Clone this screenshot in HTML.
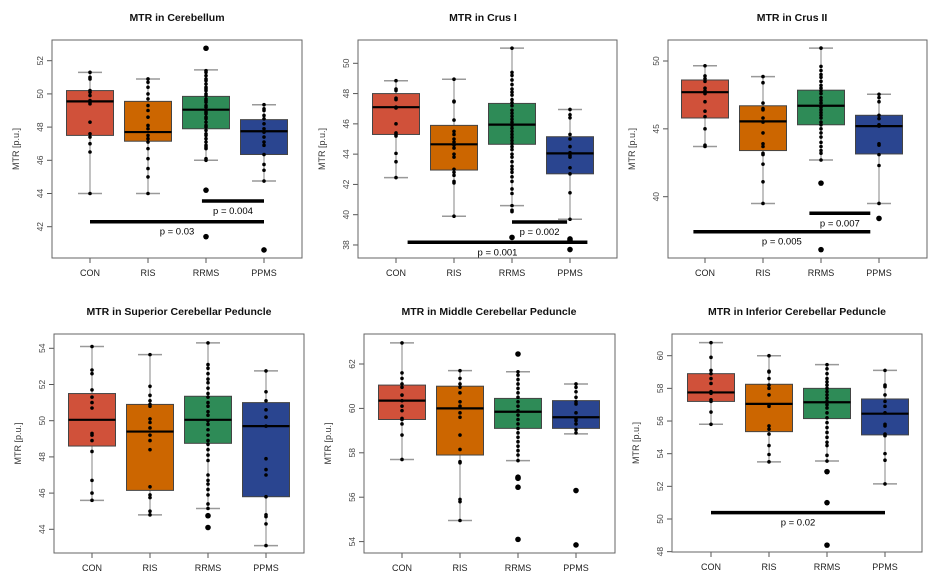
<!DOCTYPE html>
<html><head><meta charset="utf-8"><style>
body{margin:0;background:#fff;}
svg{display:block;font-family:"Liberation Sans",Arial,sans-serif;}
</style></head><body>
<svg id="chart" width="936" height="586" viewBox="0 0 936 586"></svg>
<script>
const groups = ["CON","RIS","RRMS","PPMS"];
const colors = ["#d0513a","#cc6600","#2e8b57","#2a4590"];
const titles = ["MTR in Cerebellum","MTR in Crus I","MTR in Crus II","MTR in Superior Cerebellar Peduncle","MTR in Middle Cerebellar Peduncle","MTR in Inferior Cerebellar Peduncle"];
const tickLabels = [[42,44,46,48,50,52],[38,40,42,44,46,48,50],[40,45,50],[44,46,48,50,52,54],[54,56,58,60,62],[48,50,52,54,56,58,60]];
// stats per group: [whiskerLow, q1, median, q3, whiskerHigh]
const stats1 = [[44.0,47.5,49.55,50.2,51.3],[44.0,47.15,47.7,49.55,50.9],[46.0,47.9,49.05,49.85,51.45],[44.75,46.35,47.75,48.45,49.35]];
const stats2 = [[42.45,45.3,47.1,48.0,48.85],[39.9,42.95,44.65,45.9,48.95],[40.6,44.65,45.95,47.35,51.0],[39.7,42.7,44.05,45.15,46.95]];
const stats3 = [[43.7,45.8,47.7,48.6,49.65],[39.5,43.4,45.55,46.7,48.85],[42.7,45.3,46.7,47.85,50.95],[39.5,43.15,45.2,46.0,47.55]];
const stats4 = [[45.6,48.6,50.05,51.5,54.1],[44.8,46.15,49.4,50.9,53.65],[45.15,48.75,50.05,51.35,54.3],[43.1,45.8,49.7,51.0,52.75]];
const stats5 = [[57.7,59.5,60.35,61.05,62.95],[54.95,57.9,60.0,61.0,61.7],[57.65,59.1,59.85,60.45,61.65],[58.85,59.1,59.6,60.35,61.1]];
const stats6 = [[55.8,57.2,57.75,58.9,60.8],[53.5,55.35,57.05,58.25,60.0],[53.55,56.15,57.15,58.0,59.45],[52.15,55.15,56.45,57.35,59.1]];
// points per group
const pts1 = [[51.3,51.0,50.9,50.2,50.1,49.9,49.6,49.5,49.4,48.3,47.6,47.4,47.0,46.5,44.0],
 [50.9,50.7,50.4,50.0,49.7,49.3,49.0,48.6,48.1,47.9,47.5,47.3,47.1,46.7,46.1,45.5,45.0,44.0],
 [51.4,51.3,51.1,50.9,50.8,50.6,50.4,50.3,50.2,50.0,49.9,49.7,49.6,49.5,49.3,49.2,49.0,48.9,48.8,48.6,48.5,48.3,48.1,48.0,47.8,47.6,47.5,47.3,47.1,46.9,46.8,46.7,46.1,46.0],
 [49.35,49.1,49.0,48.7,48.5,48.2,47.9,47.7,47.4,47.1,46.9,46.35,45.75,45.4,44.75]];
const out1 = [[],[],[52.75,44.2,41.4],[40.6]];
const pts2 = [[48.85,48.3,48.2,47.7,47.6,47.1,47.05,46.0,45.4,45.3,45.2,44.05,43.5,42.45],
 [48.95,47.5,47.45,46.25,45.5,45.3,45.0,44.8,44.6,44.4,44.0,43.8,43.0,42.8,42.6,42.2,42.1,39.9],
 [51.0,49.4,49.2,48.9,48.6,48.3,48.1,47.9,47.6,47.4,47.2,46.9,46.7,46.5,46.3,46.1,45.9,45.7,45.5,45.3,45.1,44.9,44.7,44.5,44.3,44.0,43.8,43.5,43.2,43.0,42.8,42.5,42.2,41.7,41.4,40.6,40.3,40.2],
 [46.95,46.6,46.4,45.3,45.0,44.5,44.1,43.9,43.8,43.1,42.7,41.45,39.7]];
const out2 = [[],[],[38.5],[38.4,38.3,37.7]];
const pts3 = [[49.65,48.9,48.7,48.5,48.0,47.8,47.6,47.0,46.3,45.9,45.0,43.8,43.7],
 [48.85,48.4,46.9,46.5,46.4,45.8,45.5,44.7,43.9,43.7,43.2,43.1,42.4,41.1,39.5],
 [50.95,49.6,49.3,49.0,48.8,48.5,48.2,48.0,47.8,47.6,47.3,47.1,46.9,46.6,46.4,46.2,46.0,45.8,45.5,45.3,45.0,44.7,44.4,44.0,43.7,43.4,43.2,42.7],
 [47.55,47.3,47.0,46.0,45.75,45.3,45.2,43.9,43.8,43.1,42.3,39.5]];
const out3 = [[],[],[41.0,36.1],[38.4]];
const pts4 = [[54.1,52.8,52.6,51.7,51.3,51.0,50.7,49.3,49.2,48.9,48.3,46.7,46.0,45.6],
 [53.65,51.9,51.4,51.1,50.9,50.8,50.1,49.9,49.6,49.2,48.9,48.4,46.35,45.9,45.75,45.0,44.8],
 [54.3,53.1,52.9,52.6,52.3,52.1,51.8,51.5,51.3,51.0,50.8,50.5,50.3,50.0,49.8,49.5,49.2,48.9,48.7,48.4,48.1,47.8,47.0,46.7,46.5,46.2,45.9,45.4,45.15],
 [52.75,51.6,51.1,50.6,50.2,49.7,47.9,47.3,47.0,45.8,44.8,44.7,44.3,43.1]];
const out4 = [[],[],[44.75,44.1],[]];
const pts5 = [[62.95,61.6,61.35,61.1,60.95,60.6,60.35,60.1,59.9,59.55,59.5,59.3,58.8,57.7],
 [61.7,61.35,61.1,60.95,60.7,60.3,60.1,59.8,59.6,58.8,58.15,57.6,57.55,55.9,55.8,54.95],
 [61.65,61.5,61.3,61.1,60.9,60.7,60.5,60.3,60.1,59.9,59.7,59.5,59.3,59.1,58.9,58.7,58.5,58.3,58.1,57.9,57.65],
 [61.1,60.95,60.75,60.5,60.3,60.2,59.8,59.55,59.45,59.3,59.05,58.9]];
const out5 = [[],[],[62.45,56.9,56.85,56.45,54.1],[56.3,53.85]];
const pts6 = [[60.8,59.9,59.1,58.9,58.6,58.3,57.8,57.7,57.3,57.2,56.55,55.8],
 [60.0,59.05,59.0,58.6,58.2,58.0,57.6,57.0,56.9,55.7,55.5,55.2,54.5,53.95,53.5],
 [59.45,59.2,58.9,58.6,58.4,58.2,58.0,57.8,57.6,57.4,57.2,57.0,56.8,56.5,56.2,55.9,55.6,55.3,55.0,54.7,54.5,53.9,53.55],
 [59.1,58.2,58.1,57.6,57.2,56.9,56.5,55.8,55.7,55.2,55.1,54.0,53.6,52.15]];
const out6 = [[],[],[52.9,51.0,48.4],[]];
// significance bars: [fromGroup, toGroup, value, label]
const sig1 = [[2.93,4.0,43.55,"p = 0.004"],[1.0,4.0,42.3,"p = 0.03"]];
const sig2 = [[3.0,3.95,39.52,"p = 0.002"],[1.2,4.3,38.18,"p = 0.001"]];
const sig3 = [[2.8,3.85,38.78,"p = 0.007"],[0.8,3.85,37.42,"p = 0.005"]];
const sig6 = [[1.0,4.0,50.39,"p = 0.02"]];

const S=[stats1,stats2,stats3,stats4,stats5,stats6];
const P=[pts1,pts2,pts3,pts4,pts5,pts6];
const O=[out1,out2,out3,out4,out5,out6];
const G=[sig1,sig2,sig3,[],[],sig6];
// layout: frame left,right,top,bottom; centers of group1 and group4; reference tick (value,pixel) and px per unit
const L=[
 {l:52,r:302,t:40,b:258,c1:90,c4:264,v0:52,p0:60.7,k:16.6,tx:177},
 {l:358,r:617,t:40,b:258,c1:396,c4:570,v0:50,p0:63.3,k:15.14,tx:483},
 {l:668,r:927,t:40,b:258,c1:705,c4:879,v0:50,p0:61,k:13.57,tx:792},
 {l:54,r:304,t:334,b:553,c1:92,c4:266,v0:54,p0:348.3,k:18.1,tx:179},
 {l:364,r:615,t:334,b:553,c1:402,c4:576,v0:62,p0:364,k:22.2,tx:489},
 {l:672,r:922,t:334,b:552,c1:711,c4:885,v0:60,p0:355.7,k:16.33,tx:797}];
const NS="http://www.w3.org/2000/svg";
const svg=document.getElementById('chart');
function mk(tag,attrs,parent,txt){const e=document.createElementNS(NS,tag);for(const a in attrs)e.setAttribute(a,attrs[a]);if(txt!==undefined)e.textContent=txt;(parent||svg).appendChild(e);return e;}
L.forEach((f,pi)=>{
 const g=mk('g',{});
 
 
 const y=v=>f.p0+(f.v0-v)*f.k;
 const x=i=>f.c1+(i-1)*(f.c4-f.c1)/3;
 const t=mk('text',{x:f.tx,y:f.t-19,'text-anchor':'middle','font-size':'10.5','font-weight':'bold',fill:'#111'},g,titles[pi]);
 
 
 const yt=mk('text',{transform:`translate(${f.l-33},${(f.t+f.b)/2}) rotate(-90)`,'text-anchor':'middle','font-size':'9',fill:'#333'},g,'MTR [p.u.]');
 
 
 tickLabels[pi].forEach(v=>{
  const yy=y(v);
  mk('line',{x1:f.l-5,x2:f.l,y1:yy,y2:yy,stroke:'#555','stroke-width':1},g);
  const tl=mk('text',{transform:`translate(${f.l-9},${yy}) rotate(-90)`,'text-anchor':'middle','font-size':'8.5',fill:'#444'},g,String(v));
  
  
 });
 groups.forEach((gn,i)=>{
  const cx=x(i+1),st=S[pi][i],bw=47;
  mk('line',{x1:cx,x2:cx,y1:f.b,y2:f.b+5,stroke:'#555'},g);
  const xl=mk('text',{x:cx,y:f.b+18,'text-anchor':'middle','font-size':'9',fill:'#222'},g,gn);
  
  
  mk('line',{x1:cx,x2:cx,y1:y(st[0]),y2:y(st[4]),stroke:'#999','stroke-width':1.2},g);
  [st[0],st[4]].forEach(v=>mk('line',{x1:cx-12,x2:cx+12,y1:y(v),y2:y(v),stroke:'#999','stroke-width':1.5},g));
  const b=mk('rect',{x:cx-bw/2,y:y(st[3]),width:bw,height:y(st[1])-y(st[3]),fill:colors[i],stroke:'#444','stroke-width':1},g);
  
  
  mk('line',{x1:cx-bw/2,x2:cx+bw/2,y1:y(st[2]),y2:y(st[2]),stroke:'#000','stroke-width':2.2},g);
  P[pi][i].forEach(v=>{const c=mk('circle',{cx:cx,cy:y(v),r:1.8,fill:'#000'},g);
   
   });
  O[pi][i].forEach(v=>{const c=mk('circle',{cx:cx,cy:y(v),r:2.8,fill:'#000'},g);
   
   });
 });
 G[pi].forEach(s=>{
  const x1=x(s[0]),x2=x(s[1]),yy=y(s[2]);
  const bar=mk('line',{x1:x1,x2:x2,y1:yy,y2:yy,stroke:'#000','stroke-width':3.5},g);
  
  
  const lb=mk('text',{x:(x1+x2)/2,y:yy+13,'text-anchor':'middle','font-size':'9.5',fill:'#000'},g,s[3]);
  
  
 });
 const fr=mk('rect',{x:f.l,y:f.t,width:f.r-f.l,height:f.b-f.t,fill:'none',stroke:'#666','stroke-width':1},g);
 
 
});
</script>
</body></html>
